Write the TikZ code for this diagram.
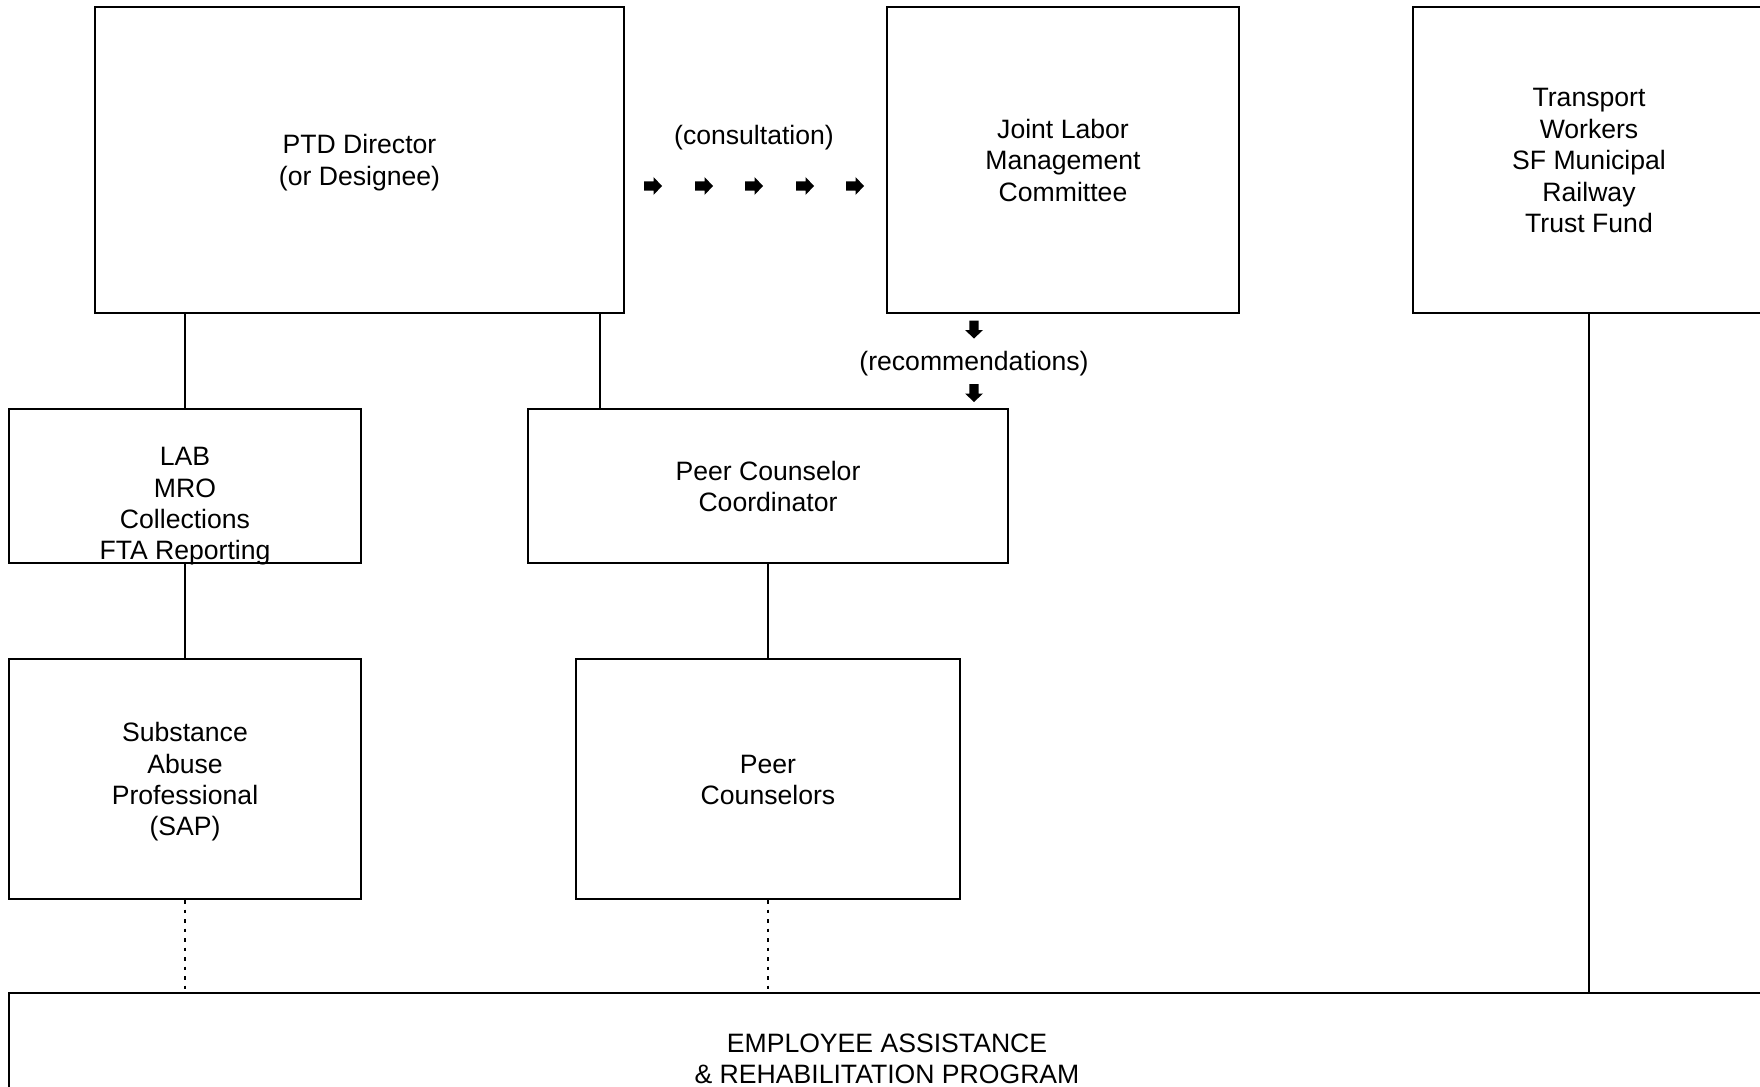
\documentclass[tikz,border=0pt]{standalone}
\usepackage{fontspec}
\setmainfont{Liberation Sans}
\newcommand\mystrut{\rule[-6pt]{0pt}{31.4pt}}
\begin{document}
\begin{tikzpicture}[x=1pt,y=-1pt,
  box/.style={draw=black,line width=2.2pt,rectangle,inner sep=0pt,align=center,
    font=\fontsize{26.6pt}{31.4pt}\selectfont},
  txt/.style={inner sep=0pt,align=center,font=\fontsize{26.6pt}{31.4pt}\selectfont},
  conn/.style={draw=black,line width=2pt},
  dotconn/.style={draw=black,line width=2pt,dash pattern=on 3.5pt off 6pt},
  rarrow/.pic={\fill[black] (-9,-4.6) -- (0.5,-4.6) -- (0.5,-9) -- (9,0) -- (0.5,9) -- (0.5,4.6) -- (-9,4.6) -- cycle;},
  darrow/.pic={\fill[black] (-4.6,-9) -- (-4.6,0.5) -- (-9,0.5) -- (0,9) -- (9,0.5) -- (4.6,0.5) -- (4.6,-9) -- cycle;}
]
\useasboundingbox (0,0) rectangle (1760,1086);
\clip (0,0) rectangle (1760,1086);
\fill[white] (0,0) rectangle (1760,1086);

% top row
\node[box,minimum width=529pt,minimum height=306pt] (ptd) at (359.5,160) {\mystrut PTD Director\\\mystrut(or Designee)};
\node[box,minimum width=352pt,minimum height=306pt] (jlmc) at (1063,160) {\mystrut Joint Labor\\\mystrut Management\\\mystrut Committee};
\node[box,minimum width=352pt,minimum height=306pt] (tw) at (1589,160) {\mystrut Transport\\\mystrut Workers\\\mystrut SF Municipal\\\mystrut Railway\\\mystrut Trust Fund};

% second row
\node[box,minimum width=352pt,minimum height=154pt] (lab) at (185,486) {};
\node[txt] (labtxt) at (185,503) {\mystrut LAB\\\mystrut MRO\\\mystrut Collections\\\mystrut FTA Reporting};
\node[box,minimum width=480.5pt,minimum height=154pt] (pcc) at (768,486) {\mystrut Peer Counselor\\\mystrut Coordinator};

% third row
\node[box,minimum width=352pt,minimum height=240pt] (sap) at (185,779) {\mystrut Substance\\\mystrut Abuse\\\mystrut Professional\\\mystrut(SAP)};
\node[box,minimum width=384pt,minimum height=240pt] (pc) at (768,779) {\mystrut Peer\\\mystrut Counselors};

% bottom
\node[box,minimum width=1756pt,minimum height=130pt] (eap) at (887,1058) {\mystrut EMPLOYEE ASSISTANCE\\\mystrut\& REHABILITATION PROGRAM};

% labels
\node[txt] (cons) at (754,135) {\mystrut(consultation)};
\node[txt] (recs) at (974,361) {\mystrut(recommendations)};

% arrows
\foreach \xx in {653,704,754,805,855} { \pic at (\xx,186) {rarrow}; }
\pic at (974,329.5) {darrow};
\pic at (974,393) {darrow};

% connectors
\coordinate (pccin) at (600,409);
\draw[conn] (lab.north |- ptd.south) -- (lab.north);
\draw[conn] (pccin |- ptd.south) -- (pccin);
\draw[conn] (lab.south) -- (sap.north);
\draw[conn] (pcc.south) -- (pc.north);
\draw[dotconn] (sap.south) -- (sap.south |- eap.north);
\draw[dotconn] (pc.south) -- (pc.south |- eap.north);
\draw[conn] (tw.south) -- (tw.south |- eap.north);
\end{tikzpicture}
\end{document}
